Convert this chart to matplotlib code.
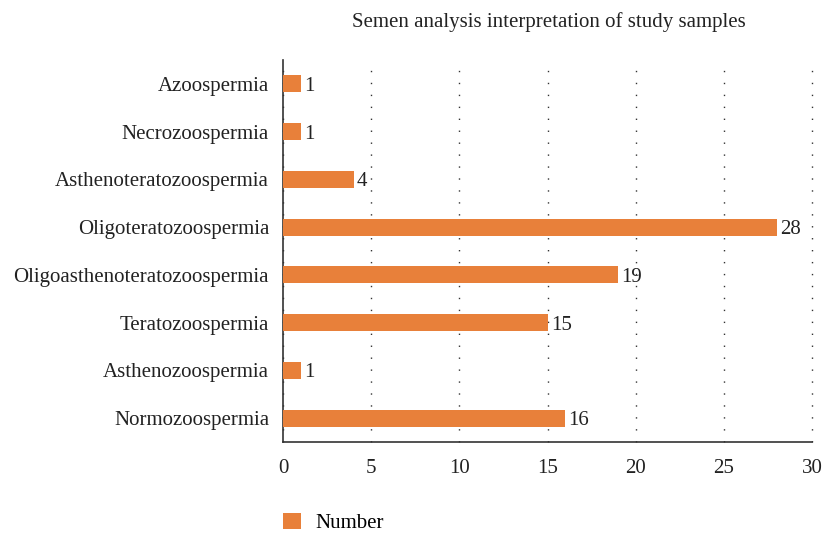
import matplotlib
matplotlib.use("Agg")
import matplotlib.pyplot as plt
from matplotlib.patches import Patch

categories = ["Normozoospermia", "Asthenozoospermia", "Teratozoospermia",
              "Oligoasthenoteratozoospermia", "Oligoteratozoospermia",
              "Asthenoteratozoospermia", "Necrozoospermia", "Azoospermia"]
values = [16, 1, 15, 19, 28, 4, 1, 1]
xticks = [0, 5, 10, 15, 20, 25, 30]

plt.rcParams['font.family'] = ['Liberation Serif', 'DejaVu Serif']
color = '#E8803A'
fs = 15

fig = plt.figure(figsize=(8.23, 5.33), dpi=100)
ax = fig.add_axes([283/823, 1-442/533, (812-283)/823, (442-60)/533])

y = list(range(len(categories)))
ax.barh(y, values, height=0.36, color=color, zorder=3)
for yi, v in zip(y, values):
    ax.text(v + 0.2, yi, str(v), va='center_baseline', ha='left', fontsize=fs, color='#222222')

ax.set_xlim(0, 30)
ax.set_ylim(-0.5, len(categories) - 0.5)
ax.set_yticks(y)
ax.set_yticklabels(categories, fontsize=fs, color='#222222')
ax.set_xticks(xticks)
ax.set_xticklabels([str(t) for t in xticks], fontsize=fs, color='#222222')
ax.tick_params(axis='both', length=0)
ax.tick_params(axis='x', pad=12)
ax.tick_params(axis='y', pad=10)
for s in ['top', 'right']:
    ax.spines[s].set_visible(False)
for s in ['left', 'bottom']:
    ax.spines[s].set_color('#333333')
    ax.spines[s].set_linewidth(1.2)
ax.grid(axis='x', linestyle=(0, (1, 7.6)), color='#333333', linewidth=1.0, zorder=0)
for gl in ax.get_xgridlines():
    gl.set_clip_on(False)
ax.set_axisbelow(True)

fig.text(549/823, 1-22/533, "Semen analysis interpretation of study samples",
         ha='center', va='center', fontsize=fs, color='#222222')

fig.legend(handles=[Patch(facecolor=color, label='Number')],
           loc='center left', bbox_to_anchor=(283/823, 1-523/533), frameon=False,
           fontsize=fs, handlelength=0.85, handleheight=0.85, handletextpad=0.7,
           borderpad=0, borderaxespad=0)

fig.savefig("out.png", dpi=100)
